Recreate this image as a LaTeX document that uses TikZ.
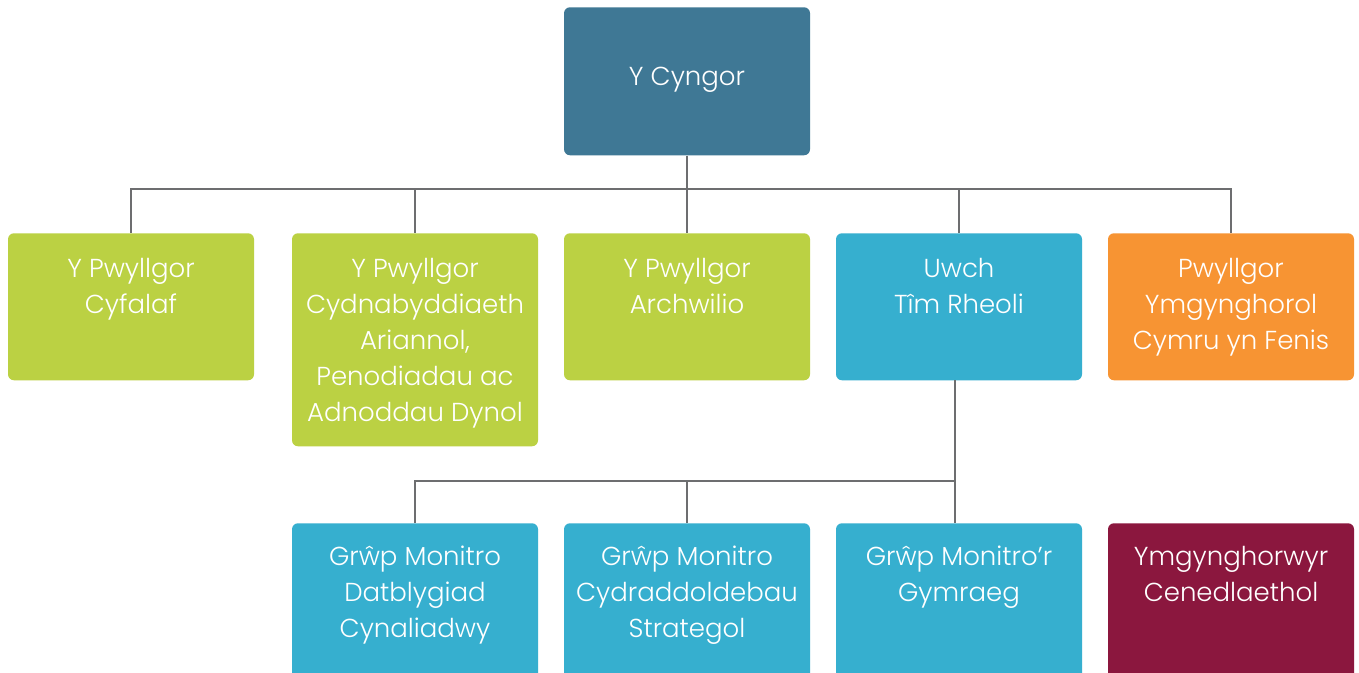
\documentclass[tikz,border=0pt]{standalone}
\usepackage{fontspec}
\setmainfont{Poppins}[UprightFont=* Light]
\definecolor{cTop}{HTML}{3F7895}
\definecolor{cGreen}{HTML}{BBD143}
\definecolor{cBlue}{HTML}{36AFCF}
\definecolor{cOrange}{HTML}{F79433}
\definecolor{cMaroon}{HTML}{8B173E}
\definecolor{cLine}{HTML}{6D6E70}
\begin{document}
\begin{tikzpicture}[x=0.75pt,y=-0.75pt,
  box/.style={draw=none,rounded corners=4.5pt,minimum width=184.5pt,inner sep=0pt,anchor=north},
  lbl/.style={text=white,font=\fontsize{19.5pt}{27pt}\selectfont,align=center,anchor=north,inner sep=0pt},
  conn/.style={draw=cLine,line width=1.7pt}]
\clip (0,0) rectangle (1359,673);
\fill[white] (0,0) rectangle (1359,673);
% boxes
\node[box,fill=cTop,minimum height=111pt] (top) at (687,7) {};
\node[box,fill=cGreen,minimum height=110.25pt] (b1) at (131,233) {};
\node[box,fill=cGreen,minimum height=159.75pt] (b2) at (415,233) {};
\node[box,fill=cGreen,minimum height=110.25pt] (b3) at (687,233) {};
\node[box,fill=cBlue,minimum height=110.25pt] (b4) at (959,233) {};
\node[box,fill=cOrange,minimum height=110.25pt] (b5) at (1231,233) {};
\node[box,fill=cBlue,minimum height=135pt] (c1) at (415,523) {};
\node[box,fill=cBlue,minimum height=135pt] (c2) at (687,523) {};
\node[box,fill=cBlue,minimum height=135pt] (c3) at (959,523) {};
\node[box,fill=cMaroon,minimum height=135pt] (c4) at (1231,523) {};
% labels
\node[lbl] (ttop) at (687,67) {Y Cyngor};
\node[lbl] (t1) at (131,258) {Y Pwyllgor\\Cyfalaf};
\node[lbl] (t2) at (415,258) {Y Pwyllgor\\Cydnabyddiaeth\\Ariannol,\\Penodiadau ac\\Adnoddau Dynol};
\node[lbl] (t3) at (687,258) {Y Pwyllgor\\Archwilio};
\node[lbl] (t4) at (959,258) {Uwch\\Tîm Rheoli};
\node[lbl] (t5) at (1231,258) {Pwyllgor\\Ymgynghorol\\Cymru yn Fenis};
\node[lbl] (u1) at (415,546) {Grŵp Monitro\\Datblygiad\\Cynaliadwy};
\node[lbl] (u2) at (687,546) {Grŵp Monitro\\Cydraddoldebau\\Strategol};
\node[lbl] (u3) at (959,546) {Grŵp Monitro’r\\Gymraeg};
\node[lbl] (u4) at (1231,546) {Ymgynghorwyr\\Cenedlaethol};
% connectors
\coordinate (bus) at (687,189);
\coordinate (sub) at (955,380);
\coordinate (bus2) at (955,481);
\draw[conn] (top.south) -- (bus);
\draw[conn] (b1.north) |- (bus) -| (b5.north);
\draw[conn] (b2.north) -- (b2.north |- bus);
\draw[conn] (b3.north) -- (b3.north |- bus);
\draw[conn] (b4.north) -- (b4.north |- bus);
\draw[conn] (sub) -- (bus2);
\draw[conn] (c1.north) |- (bus2);
\draw[conn] (c2.north) -- (c2.north |- bus2);
\draw[conn] (bus2) -- (bus2 |- c3.north);
\end{tikzpicture}
\end{document}
